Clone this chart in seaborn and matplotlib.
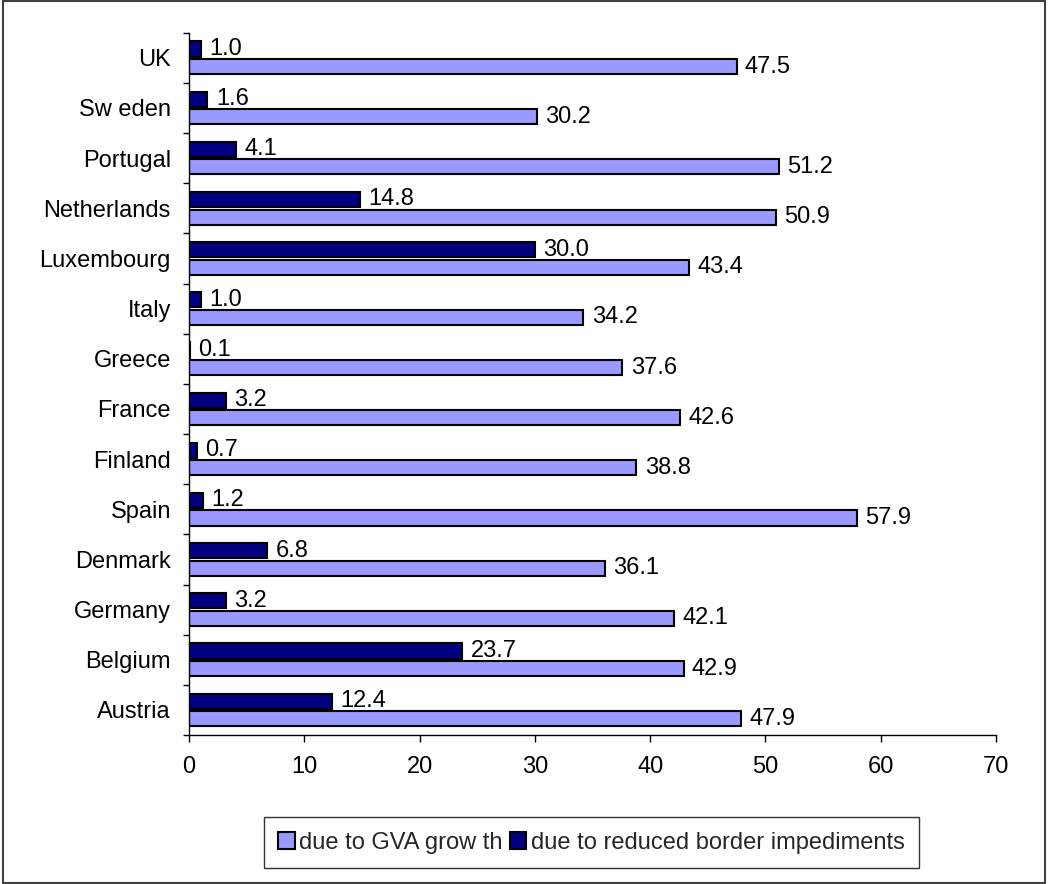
import matplotlib
matplotlib.use("Agg")
import matplotlib.pyplot as plt
import seaborn as sns
import pandas as pd
import numpy as np
from matplotlib.patches import Rectangle, Patch

countries = ["UK", "Sw eden", "Portugal", "Netherlands", "Luxembourg", "Italy", "Greece",
             "France", "Finland", "Spain", "Denmark", "Germany", "Belgium", "Austria"]
gva_growth = [47.5, 30.2, 51.2, 50.9, 43.4, 34.2, 37.6, 42.6, 38.8, 57.9, 36.1, 42.1, 42.9, 47.9]
border_reduction = [1.0, 1.6, 4.1, 14.8, 30.0, 1.0, 0.1, 3.2, 0.7, 1.2, 6.8, 3.2, 23.7, 12.4]
series_names = ["due to GVA grow th", "due to reduced border impediments"]
x_ticks = [0, 10, 20, 30, 40, 50, 60, 70]

df = pd.DataFrame({
    "country": countries * 2,
    "value": border_reduction + gva_growth,
    "series": [series_names[1]] * len(countries) + [series_names[0]] * len(countries),
})

sns.set_theme(style="white")
plt.rcParams['font.family'] = ['Liberation Sans', 'DejaVu Sans']

colors = {series_names[0]: "#9999FF", series_names[1]: "#000080"}
FS = 17

fig = plt.figure(figsize=(10.48, 8.84), dpi=100)
ax = fig.add_axes([189/1048, 1-735/884, (996-189)/1048, (735-32.7)/884])

sns.barplot(data=df, y="country", x="value", hue="series", order=countries,
            hue_order=[series_names[1], series_names[0]], palette=colors, saturation=1,
            orient="h", width=0.7, gap=0.14, edgecolor="black", linewidth=1.5,
            ax=ax, legend=False)

for cont in ax.containers:
    ax.bar_label(cont, fmt="%.1f", padding=6, fontsize=FS, color="black")

ax.set_xlim(0, 70)
ax.set_xticks(x_ticks)
ax.set_ylim(len(countries) - 0.5, -0.5)
ax.set_xlabel("")
ax.set_ylabel("")
ax.set_yticks(range(len(countries)))
ax.set_yticklabels(countries)
ax.set_yticks(np.arange(-0.5, len(countries), 1.0), minor=True)
ax.tick_params(axis="y", which="major", length=0, pad=13, labelsize=FS, labelcolor="black")
ax.tick_params(axis="y", which="minor", length=4, width=1, color="black", direction="out", left=True)
ax.tick_params(axis="x", which="major", length=5, width=1, color="black", direction="out",
               bottom=True, pad=10, labelsize=FS, labelcolor="black")
for s in ["top", "right"]:
    ax.spines[s].set_visible(False)
for s in ["left", "bottom"]:
    ax.spines[s].set_color("black")
    ax.spines[s].set_linewidth(1)
ax.grid(False)

handles = [Patch(facecolor=colors[n], edgecolor="black", linewidth=1.5, label=n) for n in series_names]
leg = fig.legend(handles=handles, loc="center", bbox_to_anchor=(591.5/1048, 1-842.5/884),
                 ncol=2, fontsize=FS, frameon=True, fancybox=False, edgecolor="black",
                 handlelength=0.7, handleheight=0.7, handletextpad=0.2, columnspacing=0.3,
                 borderpad=0.6, borderaxespad=0)
leg.get_frame().set_linewidth(1)

fig.patches.append(Rectangle((3/1048, 1/884), 1042/1048, 882/884, transform=fig.transFigure,
                             fill=False, edgecolor="#404040", linewidth=1.5))

fig.savefig("out.png", dpi=100, facecolor="white")
